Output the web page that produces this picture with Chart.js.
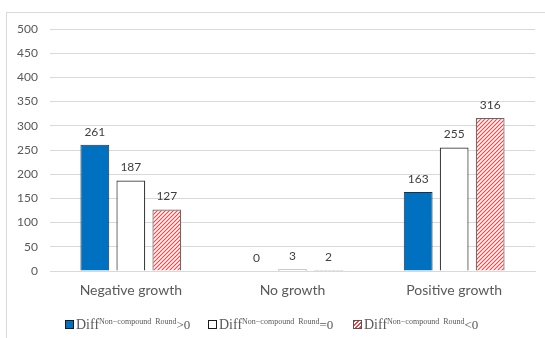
<!DOCTYPE html>
<html>
<head>
<meta charset="utf-8">
<script src="https://cdn.jsdelivr.net/npm/chart.js@4/dist/chart.umd.min.js"></script>
<style>
  html, body { margin: 0; padding: 0; background: #fff; }
  #wrap { position: relative; width: 545px; height: 338px; overflow: hidden; }
  #frame { position: absolute; left: 6px; top: 12px; width: 600px; height: 400px;
           border: 1px solid #d9d9d9; box-sizing: border-box; }
  #chart { position: absolute; left: 0; top: 0; }
  #legend { position: absolute; left: 0; top: 313px; width: 545px; height: 22px;
            font-family: "Liberation Serif", serif; color: #595959; }
  .item { position: absolute; top: 0; white-space: nowrap; line-height: 22px; }
  .sw { display: inline-block; width: 7px; height: 7px; border: 1px solid #1a1a1a;
        margin-right: 2px; vertical-align: 0px; }
  .big { font-size: 14px; }
  .sup { font-size: 8px; position: relative; top: -5px; }
  .rel { font-size: 13px; }
</style>
</head>
<body>
<div id="wrap">
  <div id="frame"></div>
  <canvas id="chart" width="545" height="338"></canvas>
  <div id="legend"></div>
</div>
<script>
// Categories and series
const categories = ["Negative growth", "No growth", "Positive growth"];
const seriesNames = ["Diff>0", "Diff=0", "Diff<0"];
const diffPositive = [261, 0, 163];
const diffZero = [187, 3, 255];
const diffNegative = [127, 2, 316];
const yTicks = [0, 50, 100, 150, 200, 250, 300, 350, 400, 450, 500];

// Red diagonal hatch fill
function makeHatch() {
  const c = document.createElement("canvas");
  c.width = 4; c.height = 4;
  const g = c.getContext("2d");
  g.fillStyle = "#ffffff";
  g.fillRect(0, 0, 4, 4);
  g.strokeStyle = "#f24444";
  g.lineWidth = 1.2;
  g.beginPath();
  g.moveTo(-1, 5); g.lineTo(5, -1);
  g.moveTo(-1, 1); g.lineTo(1, -1);
  g.moveTo(3, 5); g.lineTo(5, 3);
  g.stroke();
  return g.createPattern(c, "repeat");
}
const hatch = makeHatch();

// Value labels above each bar
const valueLabels = {
  id: "valueLabels",
  afterDatasetsDraw(chart) {
    const ctx = chart.ctx;
    ctx.save();
    ctx.font = "12px Lato";
    ctx.fillStyle = "#404040";
    ctx.textAlign = "center";
    ctx.textBaseline = "bottom";
    chart.data.datasets.forEach((ds, i) => {
      chart.getDatasetMeta(i).data.forEach((bar, j) => {
        ctx.fillText(String(ds.data[j]), bar.x, bar.y - 7);
      });
    });
    ctx.restore();
  }
};

new Chart(document.getElementById("chart"), {
  type: "bar",
  data: {
    labels: categories,
    datasets: [
      { label: seriesNames[0], data: diffPositive, backgroundColor: "#0070c0",
        borderColor: "#1f2f45", borderWidth: 1 },
      { label: seriesNames[1], data: diffZero, backgroundColor: "#ffffff",
        borderColor: "#333333", borderWidth: 1.2 },
      { label: seriesNames[2], data: diffNegative, backgroundColor: hatch,
        borderColor: "#666666", borderWidth: 1.2 }
    ]
  },
  options: {
    responsive: false,
    animation: false,
    events: [],
    layout: { padding: { left: 0, right: 10, top: 29, bottom: 35 } },
    categoryPercentage: 0.668,
    barPercentage: 0.8,
    plugins: { legend: { display: false }, tooltip: { enabled: false } },
    scales: {
      x: {
        grid: { display: false, drawTicks: false },
        border: { display: true, color: "#d9d9d9" },
        ticks: { color: "#595959", font: { family: "Lato", size: 14 }, padding: 11 },
        afterFit(s) { s.height = 32; }
      },
      y: {
        min: 0, max: 500,
        afterBuildTicks(s) { s.ticks = yTicks.map(v => ({ value: v })); },
        grid: { color: "#d9d9d9", drawTicks: false },
        border: { display: false },
        ticks: { color: "#595959", font: { family: "Lato", size: 12 }, padding: 12 },
        afterFit(s) { s.width = 50; }
      }
    }
  },
  plugins: [valueLabels]
});

// Legend with superscript labels
const legendItems = [
  { sw: "background:#0070c0;", rel: ">0" },
  { sw: "background:#fff;", rel: "=0" },
  { sw: "background:repeating-linear-gradient(-45deg,#f24444 0 1.5px,#fff 1.5px 3px);border-color:#555;", rel: "<0" }
];
const legendLeft = [65, 208, 353];
const legend = document.getElementById("legend");
legendItems.forEach((it, i) => {
  const d = document.createElement("div");
  d.className = "item";
  d.style.left = legendLeft[i] + "px";
  d.innerHTML = '<span class="sw" style="' + it.sw + '"></span>' +
    '<span class="big">Diff</span><span class="sup">Non\u2212compound&nbsp; Round</span>' +
    '<span class="rel">' + it.rel.replace("<", "&lt;").replace(">", "&gt;") + '</span>';
  legend.appendChild(d);
});
</script>
</body>
</html>
